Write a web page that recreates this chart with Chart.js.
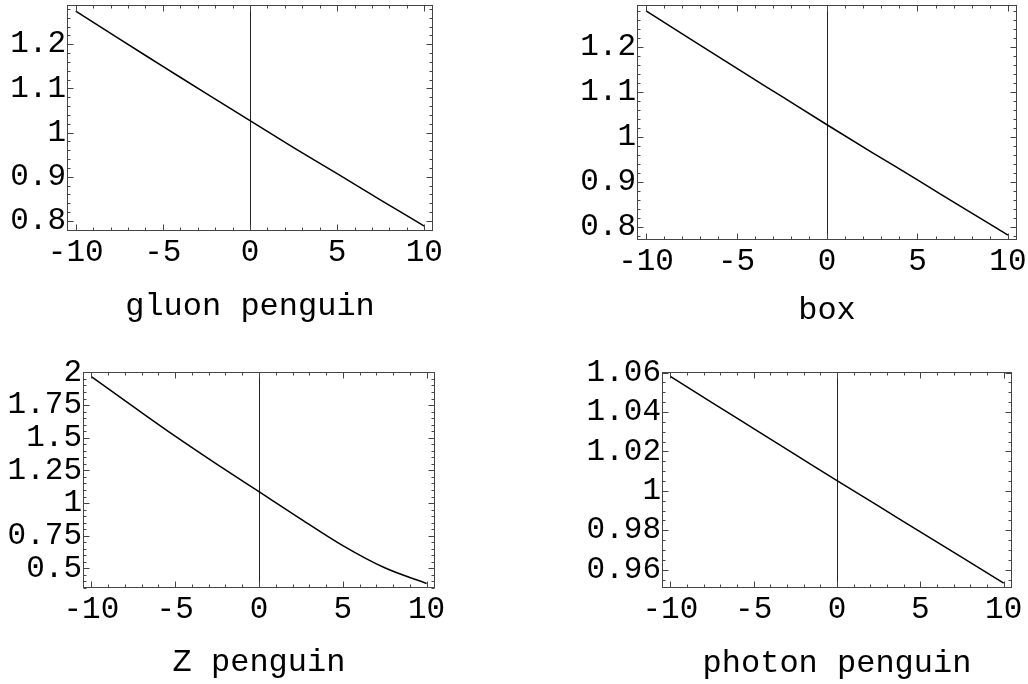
<!DOCTYPE html>
<html>
<head>
<meta charset="utf-8">
<script src="https://cdn.jsdelivr.net/npm/chart.js@4.4.1/dist/chart.umd.min.js"></script>
<style>
  html, body { margin: 0; padding: 0; background: #fff; }
  body { width: 1028px; height: 684px; position: relative; overflow: hidden; }
  canvas { position: absolute; }
</style>
</head>
<body>
<canvas id="c1" width="514" height="342" style="left:0;top:0"></canvas>
<canvas id="c2" width="514" height="342" style="left:514px;top:0"></canvas>
<canvas id="c3" width="514" height="342" style="left:0;top:342px"></canvas>
<canvas id="c4" width="514" height="342" style="left:514px;top:342px"></canvas>
<script>
// sample points along x
const xVals = [-10, -7.5, -5, -2.5, 0, 2.5, 5, 7.5, 10];

const gluonPenguin  = [1.275, 1.212, 1.150, 1.088, 1.027, 0.966, 0.907, 0.847, 0.788];
const boxValues     = [1.281, 1.217, 1.153, 1.090, 1.027, 0.965, 0.904, 0.842, 0.781];
const zPenguin      = [1.967, 1.738, 1.512, 1.296, 1.087, 0.878, 0.675, 0.505, 0.385];
const photonPenguin = [1.0581, 1.0448, 1.0316, 1.0184, 1.0052, 0.9922, 0.9792, 0.9662, 0.9532];

// tick labels
const xTicks      = [-10, -5, 0, 5, 10];
const gluonTicks  = [0.8, 0.9, 1, 1.1, 1.2];
const boxTicks    = [0.8, 0.9, 1, 1.1, 1.2];
const zTicks      = [0.5, 0.75, 1, 1.25, 1.5, 1.75, 2];
const photonTicks = [0.96, 0.98, 1, 1.02, 1.04, 1.06];

const FONT = "'Liberation Mono', 'Courier New', monospace";

// Mathematica-like frame: inward ticks on all four sides + axis at x=0
const frameTicks = {
  id: "frameTicks",
  beforeDatasetsDraw(chart, args, opts) {
    const { ctx, chartArea: a, scales: { x } } = chart;
    const px = Math.round(x.getPixelForValue(0)) + 0.5;
    ctx.save();
    ctx.strokeStyle = "#222";
    ctx.lineWidth = 1;
    ctx.beginPath();
    ctx.moveTo(px, a.top);
    ctx.lineTo(px, a.bottom);
    ctx.stroke();
    ctx.restore();
  },
  afterDraw(chart, args, opts) {
    const { ctx, chartArea: a, scales: { x, y } } = chart;
    const L = Math.round(a.left) + 0.5, R = Math.round(a.right) - 0.5;
    const T = Math.round(a.top) + 0.5, B = Math.round(a.bottom) - 0.5;
    ctx.save();
    ctx.strokeStyle = "#444";
    ctx.lineWidth = 1;
    ctx.strokeRect(L, T, R - L, B - T);

    const minorOf = (scale, step) => {
      const out = [];
      for (let k = Math.ceil(scale.min / step - 1e-9); k * step <= scale.max + 1e-9; k++) out.push(k * step);
      return out;
    };
    ctx.beginPath();
    // x ticks (bottom + top)
    minorOf(x, opts.xMinor).forEach(v => {
      const p = Math.round(x.getPixelForValue(v)) + 0.5;
      const major = opts.xMajor.some(m => Math.abs(m - v) < 1e-6);
      const len = major ? 6 : 3;
      ctx.moveTo(p, B); ctx.lineTo(p, B - len);
      ctx.moveTo(p, T); ctx.lineTo(p, T + len);
    });
    // y ticks (left + right)
    minorOf(y, opts.yMinor).forEach(v => {
      const p = Math.round(y.getPixelForValue(v)) + 0.5;
      const major = opts.yMajor.some(m => Math.abs(m - v) < 1e-6);
      const len = major ? 6 : 3;
      ctx.moveTo(L, p); ctx.lineTo(L + len, p);
      ctx.moveTo(R, p); ctx.lineTo(R - len, p);
    });
    ctx.stroke();
    ctx.restore();
  }
};

// no extra room for edge labels: the frame position is fixed by the layout
const noPad = s => { s.paddingTop = 0; s.paddingBottom = 0; s.paddingLeft = 0; s.paddingRight = 0; };

function drawPanel(id, title, values, yTickVals, yMin, yMax, yMinor, box) {
  const fmt = v => String(+v.toFixed(3));
  new Chart(document.getElementById(id), {
    type: "line",
    data: {
      datasets: [{
        data: xVals.map((xv, i) => ({ x: xv, y: values[i] })),
        borderColor: "#000",
        borderWidth: 1.5,
        pointRadius: 0,
        cubicInterpolationMode: "monotone",
        fill: false
      }]
    },
    options: {
      responsive: false,
      animation: false,
      layout: { padding: { left: 0, top: box.top, right: box.right, bottom: 0 } },
      scales: {
        x: {
          type: "linear",
          min: -10.5,
          max: 10.5,
          afterBuildTicks: s => { s.ticks = xTicks.map(v => ({ value: v })); },
          afterFit: s => { s.height = box.xh; noPad(s); },
          grid: { display: false, drawTicks: false },
          border: { display: false },
          ticks: {
            autoSkip: false, maxRotation: 0, padding: 3,
            color: "#000", font: { family: FONT, size: 31 },
            callback: v => fmt(v)
          },
          title: {
            display: true, text: title, color: "#000",
            font: { family: FONT, size: 32 },
            padding: { top: 0, bottom: box.tpad }
          }
        },
        y: {
          min: yMin,
          max: yMax,
          afterBuildTicks: s => { s.ticks = yTickVals.map(v => ({ value: v })); },
          afterFit: s => { s.width = box.yw; noPad(s); },
          grid: { display: false, drawTicks: false },
          border: { display: false },
          ticks: {
            autoSkip: false, padding: 1,
            color: "#000", font: { family: FONT, size: 31 },
            callback: v => fmt(v)
          }
        }
      },
      plugins: {
        legend: { display: false },
        tooltip: { enabled: false },
        frameTicks: { xMajor: xTicks, yMajor: yTickVals, xMinor: 1, yMinor: yMinor }
      }
    },
    plugins: [frameTicks]
  });
}

drawPanel("c1", "gluon penguin", gluonPenguin, gluonTicks, 0.777, 1.289, 0.02,
  { top: 5, right: 81, yw: 67, xh: 111, tpad: 16 });
drawPanel("c2", "box", boxValues, boxTicks, 0.770, 1.294, 0.02,
  { top: 5, right: 11, yw: 123, xh: 102, tpad: 12 });
drawPanel("c3", "Z penguin", zPenguin, zTicks, 0.35, 2.003, 0.05,
  { top: 30, right: 79, yw: 83, xh: 96, tpad: 2 });
drawPanel("c4", "photon penguin", photonPenguin, photonTicks, 0.9507, 1.0603, 0.005,
  { top: 30, right: 16, yw: 148, xh: 96, tpad: 1.5 });
</script>
</body>
</html>
